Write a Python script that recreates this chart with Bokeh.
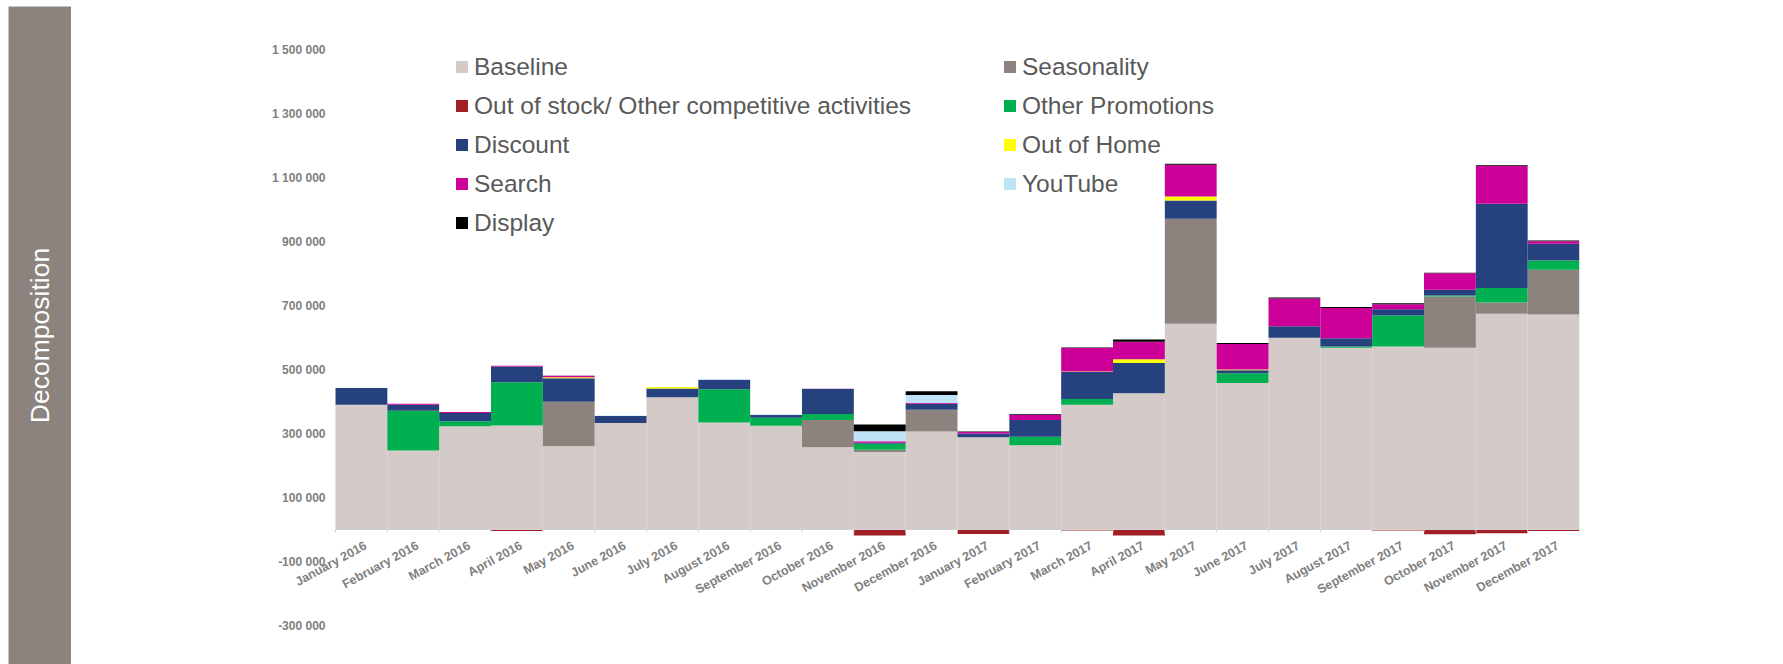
import numpy as np
from bokeh.plotting import figure
from bokeh.models import (ColumnDataSource, Range1d, FixedTicker, Legend, LegendItem)
from bokeh.layouts import row, column
from bokeh.embed import file_html
from bokeh.resources import INLINE
from bokeh.core.properties import value

# ---------------- data ----------------
months = ["January 2016", "February 2016", "March 2016", "April 2016", "May 2016", "June 2016",
          "July 2016", "August 2016", "September 2016", "October 2016", "November 2016", "December 2016",
          "January 2017", "February 2017", "March 2017", "April 2017", "May 2017", "June 2017",
          "July 2017", "August 2017", "September 2017", "October 2017", "November 2017", "December 2017"]

baseline = [390000, 247000, 323000, 325000, 260000, 333000, 413000, 334000, 324000, 257000, 242000, 306000,
            288000, 263000, 390000, 426000, 643000, 458000, 599000, 568000, 572000, 568000, 674000, 672000]
seasonality = [0, 0, 0, 0, 139000, 0, 0, 0, 0, 85000, 7000, 68000,
               0, 0, 0, 0, 328000, 0, 0, 0, 0, 160000, 35000, 140000]
out_of_stock = [0, 0, 0, -5000, 0, 0, 0, 0, 0, 0, -19000, 0,
                -14000, 0, -3000, -19000, 0, 0, 0, 0, -3000, -15000, -12000, -5000]
other_promotions = [0, 124000, 15000, 135000, 0, 0, 0, 104000, 25000, 19000, 19000, 0,
                    0, 27000, 18000, 0, 0, 30000, 0, 4000, 97000, 3000, 46000, 29000]
discount = [52000, 19000, 26000, 49000, 74000, 22000, 28000, 29000, 9000, 78000, 3000, 19000,
            12000, 52000, 84000, 94000, 57000, 10000, 36000, 26000, 19000, 18000, 263000, 52000]
out_of_home = [0, 0, 0, 0, 3000, 0, 4000, 0, 0, 0, 0, 0,
               0, 0, 2000, 12000, 13000, 2000, 0, 0, 0, 0, 0, 0]
search = [0, 3000, 3000, 3000, 5000, 0, 0, 1000, 0, 1000, 5000, 3000,
          5000, 16000, 73000, 55000, 99000, 80000, 87000, 94000, 16000, 52000, 118000, 8000]
youtube = [1000, 0, 0, 0, 2000, 1000, 0, 2000, 1000, 1000, 31000, 24000,
           0, 0, 0, 0, 0, 0, 0, 0, 0, 0, 0, 0]
display = [0, 0, 0, 0, 0, 0, 0, 0, 0, 0, 21000, 12000,
           1000, 2000, 2000, 7000, 3000, 3000, 3000, 3000, 3000, 1000, 2000, 2000]

y_ticks = [-300000, -100000, 100000, 300000, 500000, 700000, 900000, 1100000, 1300000, 1500000]
y_tick_labels = ["-300 000", "-100 000", "100 000", "300 000", "500 000", "700 000",
                 "900 000", "1 100 000", "1 300 000", "1 500 000"]

colors = {
    "Baseline": "#D4CBC8",
    "Seasonality": "#8C837E",
    "Out of stock/ Other competitive activities": "#A11F24",
    "Other Promotions": "#00B050",
    "Discount": "#25427F",
    "Out of Home": "#FFFF00",
    "Search": "#CC0099",
    "YouTube": "#BFE4F8",
    "Display": "#000000",
}

# ---------------- layout constants ----------------
GREY = "#8C837E"
FONT = "Liberation Sans"
TOTAL_W, TOTAL_H = 1780, 664
SIDE_W = 71
MAIN_W = TOTAL_W - SIDE_W
RULE_H = 9
MAIN_H = TOTAL_H - RULE_H
n = len(months)
BAR_PX = 1244 / n            # width of one month column in pixels
PAD_PX = 60                  # frame extends left of the first bar so the first label is not clipped
LEFT_B = 264 - PAD_PX
FRAME_W = 1244 + PAD_PX
RIGHT_B = MAIN_W - LEFT_B - FRAME_W
Y_START, Y_END = -421875, 1625000
units_per_px = (Y_END - Y_START) / MAIN_H

src = ColumnDataSource(dict(
    x=[i + 0.5 for i in range(n)],
    zero=[0] * n,
    month=months,
    baseline=baseline, seasonality=seasonality, oos=out_of_stock,
    other_promotions=other_promotions, discount=discount, out_of_home=out_of_home,
    search=search, youtube=youtube, display=display,
))

# ---------------- sidebar ----------------
side = figure(width=SIDE_W, height=TOTAL_H, x_range=Range1d(0, 1), y_range=Range1d(0, 658),
              toolbar_location=None, output_backend="svg",
              min_border_left=8, min_border_right=0, min_border_top=6, min_border_bottom=0,
              background_fill_color=GREY, border_fill_color="white", outline_line_color=None)
side.axis.visible = False
side.grid.visible = False
side.text(x=[0.5], y=[329], text=["Decomposition"], angle=np.pi / 2,
          text_align="center", text_baseline="middle", text_color="white",
          text_font=value(FONT), text_font_size="26.5px")

# ---------------- top rule ----------------
rule = figure(width=MAIN_W, height=RULE_H, x_range=Range1d(0, 1), y_range=Range1d(0, 1),
              toolbar_location=None, output_backend="svg",
              min_border_left=0, min_border_right=0, min_border_top=6, min_border_bottom=0,
              background_fill_color="#958D88", border_fill_color="white", outline_line_color=None)
rule.axis.visible = False
rule.grid.visible = False
rule.quad(left=[0], right=[1], bottom=[0], top=[1], fill_color="#958D88", line_color=None)

# ---------------- main chart ----------------
p = figure(width=MAIN_W, height=MAIN_H, x_range=Range1d(-PAD_PX / BAR_PX, n),
           y_range=Range1d(Y_START, Y_END),
           toolbar_location=None, output_backend="svg",
           min_border_left=LEFT_B, min_border_right=RIGHT_B, min_border_top=0, min_border_bottom=0,
           outline_line_color=None, background_fill_color="white", border_fill_color="white")
p.xgrid.visible = False
p.ygrid.visible = False
p.xaxis.visible = False

stack_cols = ["baseline", "seasonality", "other_promotions", "discount", "out_of_home",
              "search", "youtube", "display"]
stack_labels = ["Baseline", "Seasonality", "Other Promotions", "Discount", "Out of Home",
                "Search", "YouTube", "Display"]
rs = p.vbar_stack(stack_cols, x="x", width=1.0, source=src,
                  fill_color=[colors[l] for l in stack_labels], line_color=None)
rmap = dict(zip(stack_labels, rs))
r_oos = p.vbar(x="x", top="zero", bottom="oos", width=1.0, source=src,
               fill_color=colors["Out of stock/ Other competitive activities"], line_color=None)
rmap["Out of stock/ Other competitive activities"] = r_oos

# zero axis line and category ticks
p.segment(x0=[0], y0=[0], x1=[n], y1=[0], line_color="#D0D0D0", line_width=1)
bounds = list(range(n + 1))
p.segment(x0=bounds, y0=[0] * len(bounds), x1=bounds, y1=[-3 * units_per_px] * len(bounds),
          line_color="#D0D0D0", line_width=1)

# category labels
p.text(x="x", y="zero", text="month", source=src, angle=0.5,
       text_align="right", text_baseline="top", y_offset=9, x_offset=1,
       text_font=value(FONT), text_font_style="bold", text_font_size="12.5px", text_color="#808080")

# y axis (labels pushed right so they sit just left of the first bar)
p.yaxis.ticker = FixedTicker(ticks=y_ticks)
p.yaxis.major_label_overrides = {t: l for t, l in zip(y_ticks, y_tick_labels)}
p.yaxis.axis_line_color = None
p.yaxis.major_tick_line_color = None
p.yaxis.minor_tick_line_color = None
p.yaxis.major_tick_out = 0
p.yaxis.major_tick_in = 0
p.yaxis.major_label_standoff = 10 - PAD_PX
p.yaxis.major_label_text_font = FONT
p.yaxis.major_label_text_font_style = "bold"
p.yaxis.major_label_text_font_size = "12px"
p.yaxis.major_label_text_color = "#808080"

# legends (two columns)
def make_legend(names, loc):
    return Legend(items=[LegendItem(label=nm, renderers=[rmap[nm]]) for nm in names],
                  location=loc, orientation="vertical",
                  border_line_color=None, background_fill_alpha=0,
                  padding=0, margin=0, spacing=11, label_height=28,
                  glyph_height=15, glyph_width=15, label_standoff=5,
                  label_text_font=FONT, label_text_font_size="24.5px", label_text_color="#595959")

leg1 = make_legend(["Baseline", "Out of stock/ Other competitive activities", "Discount", "Search", "Display"],
                   (119 + PAD_PX, 664 - 52.7 - 184))
leg2 = make_legend(["Seasonality", "Other Promotions", "Out of Home", "YouTube"],
                   (667 + PAD_PX, 664 - 52.7 - 145))
p.add_layout(leg1)
p.add_layout(leg2)

layout = row(side, column(rule, p))
open("out.html", "w").write(file_html(layout, INLINE))
